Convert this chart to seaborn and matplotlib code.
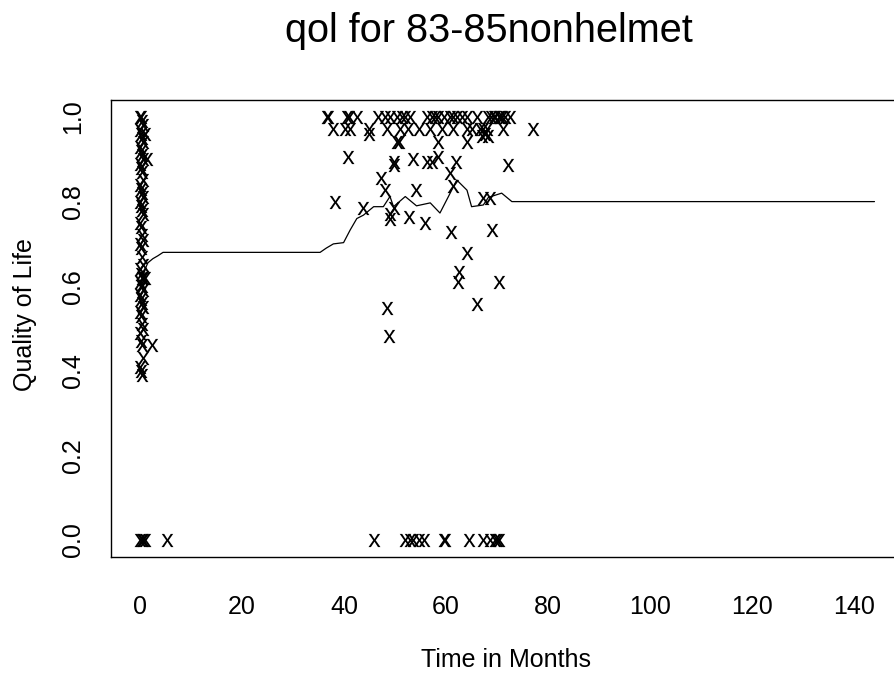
import matplotlib
matplotlib.use("Agg")
import matplotlib.pyplot as plt
import seaborn as sns
import pandas as pd

# ---------------- data ----------------
# observed quality-of-life scores (time in months, qol)
left_t = [0.0, 0.2, 0.4, 0.6, 0.0, 0.2, 0.4, 0.6, 0.0, 0.2, 0.4, 0.6, 0.0, 0.2,
          0.4, 0.6, 0.0, 0.2, 0.4, 0.6, 0.0, 0.2, 0.4, 0.6, 0.0, 0.2, 0.4, 0.6,
          0.0, 0.2, 0.4, 0.6, 0.0, 0.2, 0.4, 0.6, 0.0, 0.2, 0.4, 0.6, 0.0, 0.2,
          0.4, 0.6, 0.0, 0.2, 0.4, 0.6, 0.0, 0.2, 0.4, 0.6, 0.0, 0.2, 0.4,
          1.3, 2.3, 1.0, 0.9]
left_v = [1.00, 1.00, 0.99, 0.98, 0.97, 0.96, 0.95, 0.94, 0.93, 0.92, 0.91, 0.90,
          0.89, 0.88, 0.87, 0.85, 0.84, 0.83, 0.82, 0.81, 0.80, 0.79, 0.78, 0.77,
          0.75, 0.74, 0.72, 0.71, 0.70, 0.69, 0.67, 0.65, 0.64, 0.63, 0.62, 0.62,
          0.61, 0.60, 0.60, 0.59, 0.58, 0.57, 0.56, 0.55, 0.54, 0.53, 0.51, 0.50,
          0.49, 0.47, 0.46, 0.43, 0.41, 0.40, 0.39,
          0.90, 0.46, 0.62, 0.96]

top_t = [36.6, 36.9, 40.5, 41.0, 42.5, 46.7, 48.0, 49.0, 50.3, 51.3, 52.0, 52.9,
         56.2, 57.2, 57.8, 58.5, 59.5, 60.8, 61.4, 62.1, 63.1, 64.1, 66.0, 68.3,
         68.9, 69.3, 69.6, 70.3, 70.6, 70.9, 71.6, 72.5]
top_v = [1.00] * len(top_t)

mid_t = [37.9, 40.2, 41.2, 44.8, 48.4, 51.0, 52.6, 54.6, 56.9, 59.2, 61.4, 64.1,
         65.0, 66.7, 67.3, 68.0, 71.2, 77.1, 67.7, 68.3, 67.0, 44.8,
         50.3, 50.7, 58.5, 64.1, 40.8, 58.5, 53.6, 49.7, 56.2, 57.2, 62.0, 72.2,
         49.8, 60.8, 47.3, 61.4, 48.0, 54.2, 38.2, 67.3, 68.6, 43.8, 49.7, 49.1,
         49.0, 52.8, 55.8, 61.0, 69.1, 64.2, 62.6, 62.3, 70.4, 66.0, 48.4, 48.9]
mid_v = [0.971, 0.971, 0.971, 0.971, 0.971, 0.971, 0.971, 0.971, 0.971, 0.971,
         0.971, 0.971, 0.971, 0.971, 0.971, 0.971, 0.971, 0.971, 0.96, 0.955,
         0.955, 0.96,
         0.94, 0.94, 0.94, 0.94, 0.906, 0.906, 0.90, 0.894, 0.894, 0.894, 0.894,
         0.886, 0.886, 0.867, 0.855, 0.837, 0.827, 0.827, 0.80, 0.808, 0.808,
         0.784, 0.784, 0.77, 0.76, 0.764, 0.75, 0.727, 0.733, 0.678, 0.634,
         0.611, 0.611, 0.557, 0.549, 0.482]

zero_t = [0.0, 0.3, 0.6, 1.0, 5.2, 45.8, 52.0, 52.9, 53.6, 54.6, 55.6, 59.6, 59.8,
          64.4, 67.3, 68.6, 69.6, 70.0, 70.3]
zero_v = [0.0] * len(zero_t)

# smoothed mean curve
line_t = [0.5, 1.0, 1.5, 2.5, 3.5, 4.5, 35.3, 36.5, 37.9, 39.9, 41.2, 42.5, 43.8,
          45.8, 47.7, 49.0, 49.7, 52.0, 54.2, 56.9, 58.8, 60.8, 62.1, 64.1, 65.0,
          67.3, 68.3, 70.9, 72.9, 144.0]
line_v = [0.62, 0.64, 0.655, 0.665, 0.672, 0.68, 0.68, 0.69, 0.70, 0.703, 0.733,
          0.76, 0.768, 0.788, 0.788, 0.812, 0.788, 0.812, 0.79, 0.797, 0.773,
          0.82, 0.851, 0.827, 0.788, 0.792, 0.81, 0.82, 0.80, 0.80]

x_ticks = [0, 20, 40, 60, 80, 100, 120, 140]
y_ticks = [0.0, 0.2, 0.4, 0.6, 0.8, 1.0]
y_tick_labels = ["0.0", "0.2", "0.4", "0.6", "0.8", "1.0"]

title = "qol for 83-85nonhelmet"
x_label = "Time in Months"
y_label = "Quality of Life"

# ---------------- plot ----------------
sns.set_style("white")
plt.rcParams["font.family"] = ["Liberation Sans", "DejaVu Sans"]
plt.rcParams["mathtext.fontset"] = "custom"
plt.rcParams["mathtext.rm"] = "Liberation Sans"
plt.rcParams["text.color"] = "black"
plt.rcParams["axes.labelcolor"] = "black"

pts = pd.DataFrame({
    "t": left_t + top_t + mid_t + zero_t,
    "q": left_v + top_v + mid_v + zero_v,
})
curve = pd.DataFrame({"t": line_t, "q": line_v})

W, H = 894, 673
fig = plt.figure(figsize=(W / 100, H / 100), dpi=100)
x0, x1 = -5.76, 149.76
y0, y1 = -0.0402, 1.0402
px_per_month = 5.1
ax_left = 110.7 / W
ax_w = (x1 - x0) * px_per_month / W
ax_bottom = (H - 557) / H
ax_h = 457 / H
ax = fig.add_axes([ax_left, ax_bottom, ax_w, ax_h])

sns.scatterplot(data=pts, x="t", y="q", ax=ax, marker=r"$\mathrm{x}$",
                s=90, color="black", linewidth=0, legend=False)
sns.lineplot(data=curve, x="t", y="q", ax=ax, color="black", linewidth=0.9,
             estimator=None, sort=False)

ax.set_xlim(x0, x1)
ax.set_ylim(y0, y1)
ax.set_xticks(x_ticks)
ax.set_yticks(y_ticks)
ax.set_yticklabels(y_tick_labels, rotation=90, va="center")
for s in ax.spines.values():
    s.set_visible(True)
    s.set_color("black")
    s.set_linewidth(1.0)
ax.tick_params(axis="both", direction="out", length=7.2, width=1.0,
               color="black", labelsize=18, labelcolor="black")
ax.tick_params(axis="x", pad=20)
ax.tick_params(axis="y", pad=11)
ax.grid(False)

ax.set_xlabel(x_label, fontsize=18, color="black")
ax.set_ylabel(y_label, fontsize=18, color="black")
ax.xaxis.set_label_coords((506 - 110.7) / (W * ax_w), (557 - 648) / 457)
ax.yaxis.set_label_coords((37 - 110.7) / (W * ax_w), 0.53)

fig.text(489 / W, (H - 42) / H, title, ha="center", va="baseline",
         fontsize=28.5, color="black")

fig.savefig("out.png", dpi=100)
